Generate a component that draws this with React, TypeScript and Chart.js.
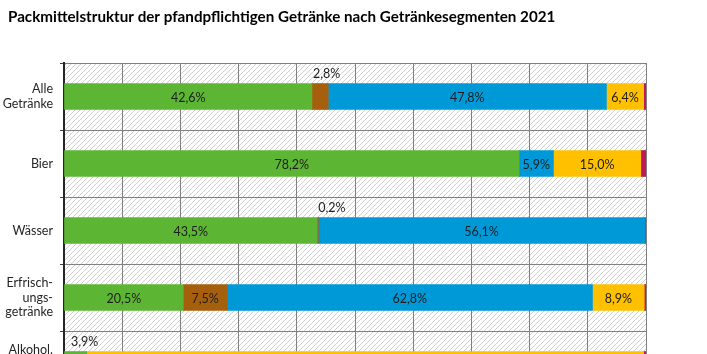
import React, { useEffect, useRef } from "react";
import { Chart, registerables } from "chart.js";

Chart.register(...registerables);

const TITLE = "Packmittelstruktur der pfandpflichtigen Getränke nach Getränkesegmenten 2021";
const categories: string[][] = [
  ["Alle", "Getränke"],
  ["Bier"],
  ["Wässer"],
  ["Erfrisch-", "ungs-", "getränke"],
  ["Alkohol.", "Misch-", "getränke"],
];
const seriesNames = ["Glas Mehrweg", "PET Mehrweg", "PET Einweg", "Dose", "Sonstige"];
const glasMehrweg = [42.6, 78.2, 43.5, 20.5, 3.9];
const petMehrweg = [2.8, 0, 0.2, 7.5, 0];
const petEinweg = [47.8, 5.9, 56.1, 62.8, 0];
const dose = [6.4, 15.0, 0, 8.9, 95.7];
const sonstige = [0.4, 0.9, 0.2, 0.3, 0.4];
const xTickValues = [0, 10, 20, 30, 40, 50, 60, 70, 80, 90, 100];
const labelledSeries = [true, true, true, true, false];

const colors = ["#5db633", "#a65f0c", "#0099d8", "#ffc000", "#c0185a"];
const FONT = "Lato, 'Noto Sans', sans-serif";

const fmt = (v: number) => v.toFixed(1).replace(".", ",") + "%";

function makeHatch(): CanvasPattern | string {
  const s = 5;
  const c = document.createElement("canvas");
  c.width = s;
  c.height = s;
  const g = c.getContext("2d");
  if (!g) return "#eee";
  g.fillStyle = "#ffffff";
  g.fillRect(0, 0, s, s);
  g.strokeStyle = "#d0d0d0";
  g.lineWidth = 1;
  g.beginPath();
  g.moveTo(-1, s + 1);
  g.lineTo(s + 1, -1);
  g.moveTo(-1, 1);
  g.lineTo(1, -1);
  g.moveTo(s - 1, s + 1);
  g.lineTo(s + 1, s - 1);
  g.stroke();
  const p = g.createPattern(c, "repeat");
  return p || "#eee";
}

const hatchPlugin = {
  id: "hatchBg",
  beforeDraw(chart: any) {
    const { ctx, chartArea } = chart;
    if (!chartArea) return;
    ctx.save();
    ctx.fillStyle = makeHatch();
    ctx.fillRect(chartArea.left, chartArea.top, chartArea.right - chartArea.left, chartArea.bottom - chartArea.top);
    ctx.restore();
  },
};

const titlePlugin = {
  id: "leftTitle",
  afterDraw(chart: any) {
    const { ctx } = chart;
    ctx.save();
    ctx.font = `bold 15.2px ${FONT}`;
    ctx.fillStyle = "#000000";
    ctx.textAlign = "left";
    ctx.textBaseline = "middle";
    ctx.fillText(TITLE, 8, 17);
    ctx.restore();
  },
};

const labelPlugin = {
  id: "segLabels",
  afterDatasetsDraw(chart: any) {
    const { ctx, chartArea } = chart;
    ctx.save();
    ctx.font = `12.5px ${FONT}`;
    ctx.fillStyle = "#1e1e1e";
    chart.data.datasets.forEach((ds: any, di: number) => {
      if (!labelledSeries[di]) return;
      const meta = chart.getDatasetMeta(di);
      meta.data.forEach((el: any, i: number) => {
        const v = ds.data[i];
        if (!v || v <= 0) return;
        const start = Math.min(el.x, el.base);
        const end = Math.max(el.x, el.base);
        const txt = fmt(v);
        if (v >= 5) {
          ctx.textAlign = "center";
          ctx.textBaseline = "middle";
          ctx.fillText(txt, (start + end) / 2, el.y + 1);
        } else {
          ctx.textAlign = "left";
          ctx.textBaseline = "middle";
          const x = Math.max(start + 1, chartArea.left + 7);
          ctx.fillText(txt, x, el.y - el.height / 2 - 10);
        }
      });
    });
    ctx.restore();
  },
};

export default function App() {
  const ref = useRef<HTMLCanvasElement | null>(null);
  useEffect(() => {
    if (!ref.current) return;
    const series = [glasMehrweg, petMehrweg, petEinweg, dose, sonstige];
    const chart = new Chart(ref.current, {
      type: "bar",
      data: {
        labels: categories,
        datasets: series.map((d, i) => ({
          label: seriesNames[i],
          data: d,
          backgroundColor: colors[i],
          borderWidth: 0,
          barThickness: 26,
        })),
      },
      options: {
        indexAxis: "y",
        animation: false,
        responsive: false,
        maintainAspectRatio: false,
        layout: { padding: { left: 0, right: 61, top: 63, bottom: 12 } },
        plugins: {
          legend: { display: false },
          tooltip: { enabled: false },
          title: { display: false },
        },
        scales: {
          x: {
            stacked: true,
            min: 0,
            max: 100,
            afterBuildTicks: (s: any) => {
              s.ticks = xTickValues.map((v) => ({ value: v }));
            },
            afterFit: (s: any) => {
              s.height = 30;
            },
            ticks: {
              callback: (v: any) => v + "%",
              color: "#262626",
              font: { family: FONT, size: 12 },
            },
            grid: { color: "#808080", lineWidth: 1, drawTicks: false },
            border: { display: false },
          },
          y: {
            stacked: true,
            afterFit: (s: any) => {
              s.width = 64;
            },
            ticks: {
              color: "#262626",
              font: { family: FONT, size: 12.5, lineHeight: 1.18 },
              padding: 7,
            },
            grid: { color: "#808080", lineWidth: 1, offset: true, tickLength: 4, tickColor: "#404040" },
            border: { display: true, color: "#262626", width: 2 },
          },
        },
      },
      plugins: [hatchPlugin, labelPlugin, titlePlugin],
    });
    return () => chart.destroy();
  }, []);
  return (
    <div style={{ position: "absolute", left: 0, top: 0, width: 707, height: 354, overflow: "hidden", background: "#fff" }}>
      <canvas ref={ref} width={707} height={440} style={{ display: "block", width: 707, height: 440 }} />
    </div>
  );
}
